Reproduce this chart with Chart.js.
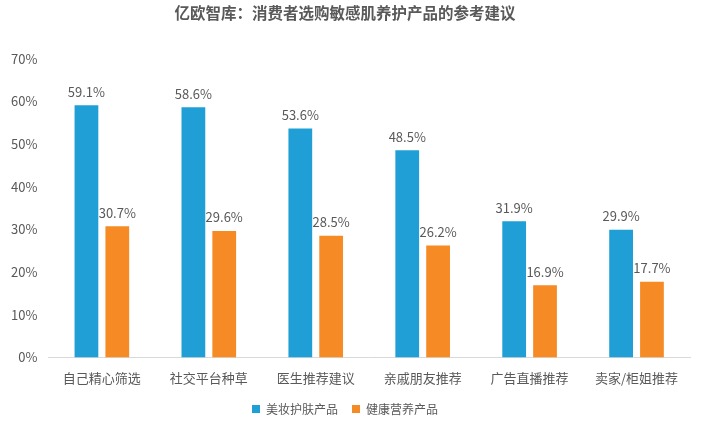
<!DOCTYPE html>
<html><head><meta charset="utf-8">
<script src="https://cdn.jsdelivr.net/npm/chart.js@4"></script>
<style>html,body{margin:0;padding:0;background:#fff;}#wrap{width:709px;height:429px;}</style>
</head><body><div id="wrap"><canvas id="c" width="709" height="429"></canvas></div>
<script>
const categories = ['自己精心筛选','社交平台种草','医生推荐建议','亲戚朋友推荐','广告直播推荐','卖家/柜姐推荐'];
const beautyValues = [59.1, 58.6, 53.6, 48.5, 31.9, 29.9];
const healthValues = [30.7, 29.6, 28.5, 26.2, 16.9, 17.7];
const seriesNames = ['美妆护肤产品','健康营养产品'];
const yTicks = [0,10,20,30,40,50,60,70];

const FONT = '"Noto Sans CJK SC", "Microsoft YaHei", sans-serif';
const TXT = '#595959';

const labelPlugin = {
  id: 'valLabels',
  afterDatasetsDraw(chart) {
    const ctx = chart.ctx;
    ctx.save();
    ctx.font = '13px ' + FONT;
    ctx.fillStyle = TXT;
    ctx.textAlign = 'center';
    ctx.textBaseline = 'bottom';
    chart.data.datasets.forEach((ds, i) => {
      chart.getDatasetMeta(i).data.forEach((bar, j) => {
        ctx.fillText(ds.data[j].toFixed(1) + '%', bar.x, bar.y - 7);
      });
    });
    ctx.restore();
  }
};

new Chart(document.getElementById('c'), {
  type: 'bar',
  data: {
    labels: categories,
    datasets: [
      { label: seriesNames[0], data: beautyValues, backgroundColor: '#1f9fd5', categoryPercentage: 0.577, barPercentage: 0.77 },
      { label: seriesNames[1], data: healthValues, backgroundColor: '#f68b26', categoryPercentage: 0.577, barPercentage: 0.77 }
    ]
  },
  options: {
    responsive: false,
    animation: false,
    layout: { padding: { left: 0, right: 19, top: 0, bottom: 4 } },
    plugins: {
      title: { display: true, text: '亿欧智库：消费者选购敏感肌养护产品的参考建议', color: TXT,
        font: { family: FONT, size: 15.5, weight: 'bold' }, padding: { top: 4, bottom: 36 } },
      legend: { position: 'bottom', labels: { color: TXT, font: { family: FONT, size: 12 }, boxWidth: 8, boxHeight: 8, padding: 14 } },
      tooltip: { enabled: false }
    },
    scales: {
      x: {
        grid: { display: false, drawTicks: false },
        border: { color: '#d9d9d9', width: 1 },
        ticks: { color: TXT, font: { family: FONT, size: 13 }, padding: 13, maxRotation: 0 },
        afterFit(scale) { scale.height -= 10; }
      },
      y: {
        min: 0, max: 70,
        afterBuildTicks(axis) { axis.ticks = yTicks.map(v => ({ value: v })); },
        grid: { display: false, drawTicks: false },
        border: { display: false },
        ticks: { color: TXT, font: { family: FONT, size: 13 }, padding: 11, callback: v => v + '%' }
      }
    }
  },
  plugins: [labelPlugin]
});
</script></body></html>
